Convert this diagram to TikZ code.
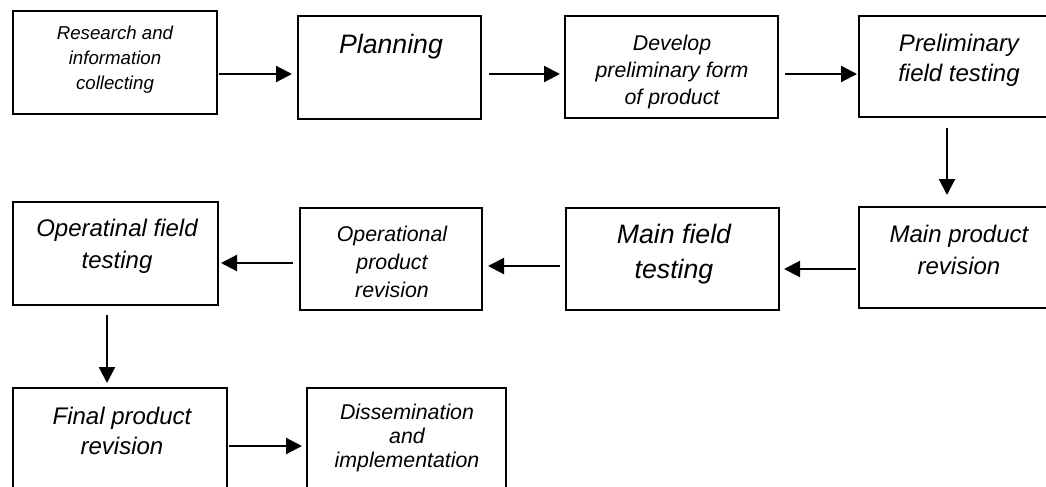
\documentclass[tikz,border=0pt]{standalone}
\usepackage{fontspec}
\setmainfont{Liberation Sans}
\usetikzlibrary{arrows.meta}
\newcommand{\mybox}[5]{\node[box,minimum width=#4*0.75pt,minimum height=#5*0.75pt] (#1) at (#2,#3) {};}
\begin{document}
\begin{tikzpicture}[x=0.75pt,y=-0.75pt,
  box/.style={draw,line width=1.7pt,inner sep=0pt,outer sep=0pt},
  lbl/.style={align=center,inner sep=0pt,font=\itshape},
  arr/.style={line width=1.6pt,-{Triangle[length=12pt,width=12pt]}}]
\useasboundingbox (0,0) rectangle (1046,486);
\clip (0,0) rectangle (1046,486);
% boxes
\mybox{b1}{115}{62.5}{204}{103}
\mybox{b2}{389.5}{67.5}{183}{103}
\mybox{b3}{671.5}{67}{213}{102}
\mybox{b4}{959}{66.5}{200}{101}
\mybox{b5}{959}{257.5}{200}{101}
\mybox{b6}{672.5}{259}{213}{102}
\mybox{b7}{391}{259}{182}{102}
\mybox{b8}{115.5}{253.5}{205}{103}
\mybox{b9}{120}{443}{214}{110}
\mybox{b10}{406.5}{443}{199}{110}
% labels
\node[lbl,font=\fontsize{14pt}{18.75pt}\selectfont\itshape] (t1) at (115,60) {Research and\\information\\collecting};
\node[lbl,font=\fontsize{20pt}{26pt}\selectfont\itshape] (t2) at (391,47) {Planning};
\node[lbl,font=\fontsize{16pt}{20.6pt}\selectfont\itshape] (t3) at (672,72) {Develop\\preliminary form\\of product};
\node[lbl,font=\fontsize{18pt}{22.5pt}\selectfont\itshape] (t4) at (959,60) {Preliminary\\field testing};
\node[lbl,font=\fontsize{18pt}{24pt}\selectfont\itshape] (t5) at (959,250) {Main product\\revision};
\node[lbl,font=\fontsize{20pt}{26pt}\selectfont\itshape] (t6) at (674,254) {Main field\\testing};
\node[lbl,font=\fontsize{16pt}{21pt}\selectfont\itshape] (t7) at (392,262) {Operational\\product\\revision};
\node[lbl,font=\fontsize{18pt}{24pt}\selectfont\itshape] (t8) at (117,246) {Operatinal field\\testing};
\node[lbl,font=\fontsize{18pt}{22.5pt}\selectfont\itshape] (t9) at (122,431) {Final product\\revision};
\node[lbl,font=\fontsize{16pt}{18pt}\selectfont\itshape] (t10) at (407,438) {Dissemination\\and\\implementation};
% arrow levels
\coordinate (ya) at (0,74);
\coordinate (yb) at (0,263);
\coordinate (yc) at (0,266);
\coordinate (yd) at (0,269);
\coordinate (ye) at (0,446);
\coordinate (xa) at (947,0);
\coordinate (xb) at (107,0);
% connectors
\draw[arr,shorten <=1.5pt,shorten >=4.5pt] (b1.east |- ya) -- (b2.west |- ya);
\draw[arr,shorten <=6pt,shorten >=3.75pt] (b2.east |- ya) -- (b3.west |- ya);
\draw[arr,shorten <=5.25pt,shorten >=1.5pt] (b3.east |- ya) -- (b4.west |- ya);
\draw[arr,shorten <=8.25pt,shorten >=9pt] (b4.south -| xa) -- (b5.north -| xa);
\draw[arr,shorten <=2.25pt,shorten >=3.75pt] (b5.west |- yd) -- (b6.east |- yd);
\draw[arr,shorten <=4.5pt,shorten >=4.5pt] (b6.west |- yc) -- (b7.east |- yc);
\draw[arr,shorten <=5.25pt,shorten >=2.25pt] (b7.west |- yb) -- (b8.east |- yb);
\draw[arr,shorten <=7.5pt,shorten >=3.75pt] (b8.south -| xb) -- (b9.north -| xb);
\draw[arr,shorten <=1.5pt,shorten >=3.75pt] (b9.east |- ye) -- (b10.west |- ye);
\end{tikzpicture}
\end{document}
